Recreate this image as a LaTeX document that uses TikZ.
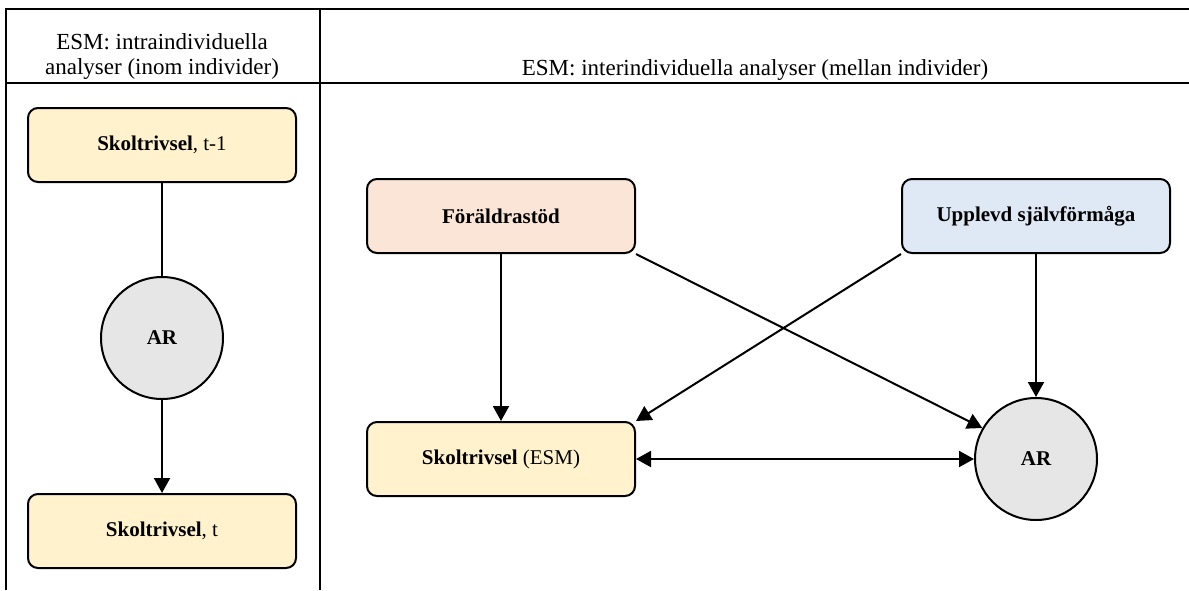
\documentclass[tikz,border=0pt]{standalone}
\usepackage{fontspec}
\setmainfont{Liberation Serif}
\usepackage{tikz}
\usetikzlibrary{arrows.meta, shapes.geometric}

\definecolor{trivsel}{HTML}{FFF2CC}
\definecolor{stod}{HTML}{FAE5D7}
\definecolor{formaga}{HTML}{DFE9F5}
\definecolor{argray}{HTML}{E6E6E6}

\begin{document}
\begin{tikzpicture}[x=0.5pt, y=-0.5pt,
  box/.style={draw, line width=1pt, rounded corners=5pt, minimum width=134pt, minimum height=37pt, align=center, font=\fontsize{10.5}{12}\selectfont},
  circ/.style={draw, circle, line width=1pt, fill=argray, minimum size=61pt, font=\fontsize{10.5}{12}\selectfont\bfseries},
  head/.style={align=center, font=\fontsize{11.5}{12.5}\selectfont, inner sep=0pt},
  grid/.style={line width=1.4pt},
  pil/.style={line width=1pt, -{Triangle[length=7.5pt, width=8pt]}},
  dubbelpil/.style={line width=1pt, {Triangle[length=7.5pt, width=8pt]}-{Triangle[length=7.5pt, width=8pt]}},
  linje/.style={line width=1pt}]
\useasboundingbox (0,0) rectangle (1189,590);

% Table
\draw[grid] (6,590) -- (6,9) -- (1189,9);
\draw[grid] (6,83) -- (1189,83);
\draw[grid] (320,9) -- (320,590);

% Headers
\node[head] (hintra) at (162,56) {ESM: intraindividuella\\analyser (inom individer)};
\node[head] (hinter) at (755,70) {ESM: interindividuella analyser (mellan individer)};

% Nodes, left
\node[box, fill=trivsel] (tforra) at (162,145) {\textbf{Skoltrivsel}, t-1};
\node[circ] (arL) at (162,338) {AR};
\node[box, fill=trivsel] (tnu) at (162,531) {\textbf{Skoltrivsel}, t};

% Nodes, right
\node[box, fill=stod] (stod) at (501,216) {\textbf{Föräldrastöd}};
\node[box, fill=formaga] (formaga) at (1036,216) {\textbf{Upplevd självförmåga}};
\node[box, fill=trivsel] (esm) at (501,459) {\textbf{Skoltrivsel} (ESM)};
\node[circ] (arR) at (1036,459) {AR};

% Edges
\draw[linje] (tforra) -- (arL);
\draw[pil] (arL) -- (tnu);
\draw[pil] (stod) -- (esm);
\draw[pil] (stod.south east) -- (arR.150);
\draw[pil] (formaga.south west) -- (esm.north east);
\draw[pil] (formaga) -- (arR);
\draw[dubbelpil] (esm) -- (arR);

\end{tikzpicture}
\end{document}
